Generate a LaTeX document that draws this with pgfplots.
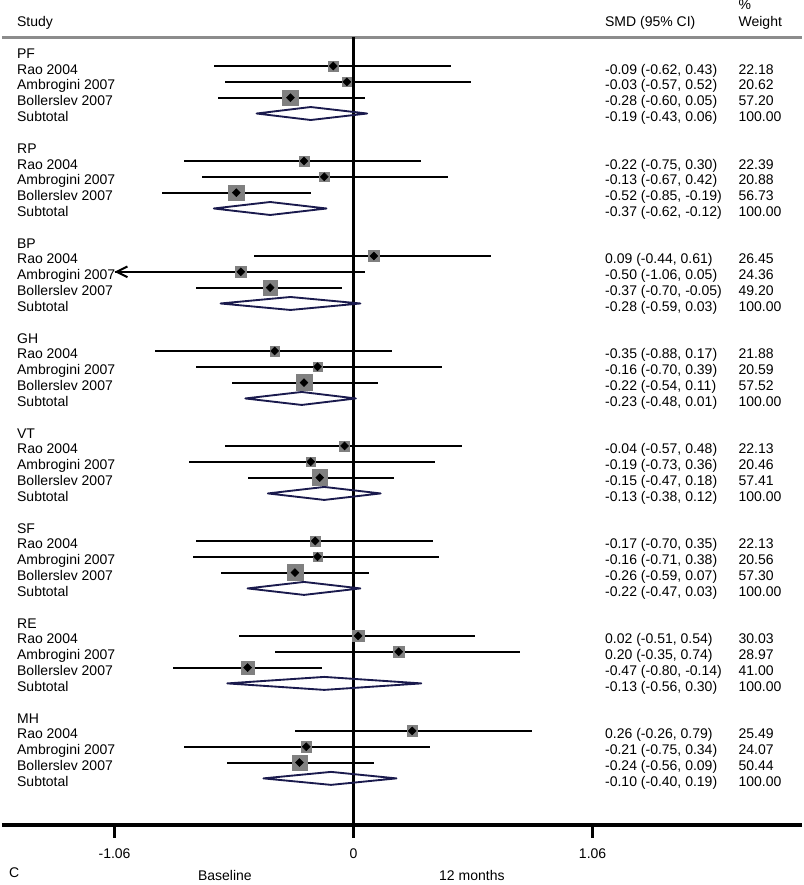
\documentclass[border=0pt]{standalone}
\usepackage{pgfplots}
\pgfplotsset{compat=1.18}
\usepackage{pgfplotstable}
\usepackage{fontspec}
\setmainfont{Liberation Sans}
\usetikzlibrary{arrows.meta}
\definecolor{sqgray}{RGB}{128,128,128}
\definecolor{navyd}{RGB}{26,26,77}
\definecolor{hdrgray}{RGB}{140,140,140}

\pgfplotstableread{
y est lo hi w
-1 -0.09 -0.62 0.43 22.18
-2 -0.03 -0.57 0.52 20.62
-3 -0.28 -0.60 0.05 57.20
-7 -0.22 -0.75 0.30 22.39
-8 -0.13 -0.67 0.42 20.88
-9 -0.52 -0.85 -0.19 56.73
-13 0.09 -0.44 0.61 26.45
-14 -0.50 -1.06 0.05 24.36
-15 -0.37 -0.70 -0.05 49.20
-19 -0.35 -0.88 0.17 21.88
-20 -0.16 -0.70 0.39 20.59
-21 -0.22 -0.54 0.11 57.52
-25 -0.04 -0.57 0.48 22.13
-26 -0.19 -0.73 0.36 20.46
-27 -0.15 -0.47 0.18 57.41
-31 -0.17 -0.70 0.35 22.13
-32 -0.16 -0.71 0.38 20.56
-33 -0.26 -0.59 0.07 57.30
-37 0.02 -0.51 0.54 30.03
-38 0.20 -0.35 0.74 28.97
-39 -0.47 -0.80 -0.14 41.00
-43 0.26 -0.26 0.79 25.49
-44 -0.21 -0.75 0.34 24.07
-45 -0.24 -0.56 0.09 50.44
}\studies

\newcommand{\rowtxt}[4]{%
  \node[row] at (axis cs:-1.4931,-#1) {#2};
  \node[row] at (axis cs:1.1144,-#1) {#3};
  \node[row] at (axis cs:1.7064,-#1) {#4};}
\newcommand{\subd}[4]{%
  \addplot[navyd, line width=1.4pt, line join=round] coordinates {(#2,#1) (#3,#1+0.41) (#4,#1) (#3,#1-0.41)} -- cycle;}

\begin{document}
\begin{tikzpicture}[
  txt/.style={anchor=base west, inner sep=0pt, font=\fontsize{10.5}{12}\selectfont},
  row/.style={txt, yshift=-6pt},
  ctr/.style={anchor=base, inner sep=0pt, font=\fontsize{10.5}{12}\selectfont}]
\begin{axis}[scale only axis, width=600pt, height=663.75pt,
  xmin=-1.5597, xmax=1.9880, ymin=-52.735, ymax=3.171,
  axis line style={draw=none}, xtick=\empty, ytick=\empty, clip=false]

% header rule
\addplot[hdrgray, line width=2.8pt] coordinates {(-1.5597,0.80) (1.988,0.80)};
% line of no effect
\addplot[black, line width=2.25pt] coordinates {(0,0.83) (0,-49.77)};
% bottom axis
\addplot[black, line width=2.4pt] coordinates {(-1.5597,-48.94) (1.988,-48.94)};
\addplot[black, line width=2.25pt] coordinates {(-1.06,-48.94) (-1.06,-49.77)};
\addplot[black, line width=2.25pt] coordinates {(1.06,-48.94) (1.06,-49.77)};

% confidence intervals
\addplot[only marks, mark=none, error bars/.cd, x dir=both, x explicit, error mark=none,
  error bar style={black, line width=1.5pt}]
  table[x=est, y=y, x error plus expr=\thisrow{hi}-\thisrow{est}, x error minus expr=\thisrow{est}-\thisrow{lo}] {\studies};
\addplot[black, line width=1.5pt, -{Straight Barb[length=8pt,width=8pt]}] coordinates {(-0.95,-14) (-1.06,-14)};

% weight squares
\addplot[scatter, only marks, mark=square*, point meta=\thisrow{w},
  scatter/use mapped color={draw=sqgray, fill=sqgray},
  visualization depends on={0.78*sqrt(\thisrow{w}) \as \msz},
  scatter/@pre marker code/.append style={/tikz/mark size=\msz}]
  table[x=est, y=y] {\studies};
% point estimates
\addplot[only marks, mark=square*, mark size=2.1pt, mark options={rotate=45, fill=black, draw=black}]
  table[x=est, y=y] {\studies};

% subtotal diamonds
\subd{-4}{-0.43}{-0.19}{0.06}
\subd{-10}{-0.62}{-0.37}{-0.12}
\subd{-16}{-0.59}{-0.28}{0.03}
\subd{-22}{-0.48}{-0.23}{0.01}
\subd{-28}{-0.38}{-0.13}{0.12}
\subd{-34}{-0.47}{-0.22}{0.03}
\subd{-40}{-0.56}{-0.13}{0.30}
\subd{-46}{-0.40}{-0.10}{0.19}

% header text
\node[txt] at (axis cs:-1.4931,1.466) {Study};
\node[txt] at (axis cs:1.1144,1.466) {SMD (95\% CI)};
\node[txt] at (axis cs:1.7064,2.54) {\%};
\node[txt] at (axis cs:1.7064,1.466) {Weight};

% PF
\node[row] at (axis cs:-1.4931,0) {PF};
\rowtxt{1}{Rao 2004}{-0.09 (-0.62, 0.43)}{22.18}
\rowtxt{2}{Ambrogini 2007}{-0.03 (-0.57, 0.52)}{20.62}
\rowtxt{3}{Bollerslev 2007}{-0.28 (-0.60, 0.05)}{57.20}
\rowtxt{4}{Subtotal}{-0.19 (-0.43, 0.06)}{100.00}
% RP
\node[row] at (axis cs:-1.4931,-6) {RP};
\rowtxt{7}{Rao 2004}{-0.22 (-0.75, 0.30)}{22.39}
\rowtxt{8}{Ambrogini 2007}{-0.13 (-0.67, 0.42)}{20.88}
\rowtxt{9}{Bollerslev 2007}{-0.52 (-0.85, -0.19)}{56.73}
\rowtxt{10}{Subtotal}{-0.37 (-0.62, -0.12)}{100.00}
% BP
\node[row] at (axis cs:-1.4931,-12) {BP};
\rowtxt{13}{Rao 2004}{0.09 (-0.44, 0.61)}{26.45}
\rowtxt{14}{Ambrogini 2007}{-0.50 (-1.06, 0.05)}{24.36}
\rowtxt{15}{Bollerslev 2007}{-0.37 (-0.70, -0.05)}{49.20}
\rowtxt{16}{Subtotal}{-0.28 (-0.59, 0.03)}{100.00}
% GH
\node[row] at (axis cs:-1.4931,-18) {GH};
\rowtxt{19}{Rao 2004}{-0.35 (-0.88, 0.17)}{21.88}
\rowtxt{20}{Ambrogini 2007}{-0.16 (-0.70, 0.39)}{20.59}
\rowtxt{21}{Bollerslev 2007}{-0.22 (-0.54, 0.11)}{57.52}
\rowtxt{22}{Subtotal}{-0.23 (-0.48, 0.01)}{100.00}
% VT
\node[row] at (axis cs:-1.4931,-24) {VT};
\rowtxt{25}{Rao 2004}{-0.04 (-0.57, 0.48)}{22.13}
\rowtxt{26}{Ambrogini 2007}{-0.19 (-0.73, 0.36)}{20.46}
\rowtxt{27}{Bollerslev 2007}{-0.15 (-0.47, 0.18)}{57.41}
\rowtxt{28}{Subtotal}{-0.13 (-0.38, 0.12)}{100.00}
% SF
\node[row] at (axis cs:-1.4931,-30) {SF};
\rowtxt{31}{Rao 2004}{-0.17 (-0.70, 0.35)}{22.13}
\rowtxt{32}{Ambrogini 2007}{-0.16 (-0.71, 0.38)}{20.56}
\rowtxt{33}{Bollerslev 2007}{-0.26 (-0.59, 0.07)}{57.30}
\rowtxt{34}{Subtotal}{-0.22 (-0.47, 0.03)}{100.00}
% RE
\node[row] at (axis cs:-1.4931,-36) {RE};
\rowtxt{37}{Rao 2004}{0.02 (-0.51, 0.54)}{30.03}
\rowtxt{38}{Ambrogini 2007}{0.20 (-0.35, 0.74)}{28.97}
\rowtxt{39}{Bollerslev 2007}{-0.47 (-0.80, -0.14)}{41.00}
\rowtxt{40}{Subtotal}{-0.13 (-0.56, 0.30)}{100.00}
% MH
\node[row] at (axis cs:-1.4931,-42) {MH};
\rowtxt{43}{Rao 2004}{0.26 (-0.26, 0.79)}{25.49}
\rowtxt{44}{Ambrogini 2007}{-0.21 (-0.75, 0.34)}{24.07}
\rowtxt{45}{Bollerslev 2007}{-0.24 (-0.56, 0.09)}{50.44}
\rowtxt{46}{Subtotal}{-0.10 (-0.40, 0.19)}{100.00}

% bottom labels
\node[ctr] at (axis cs:-1.06,-51.03) {-1.06};
\node[ctr] at (axis cs:0,-51.03) {0};
\node[ctr] at (axis cs:1.06,-51.03) {1.06};
\node[txt] at (axis cs:-1.5286,-52.23) {C};
\node[ctr] at (axis cs:-0.5707,-52.42) {Baseline};
\node[ctr] at (axis cs:0.5246,-52.42) {12 months};

\path (rel axis cs:0,0) rectangle (rel axis cs:1,1);
\end{axis}
\end{tikzpicture}
\end{document}
